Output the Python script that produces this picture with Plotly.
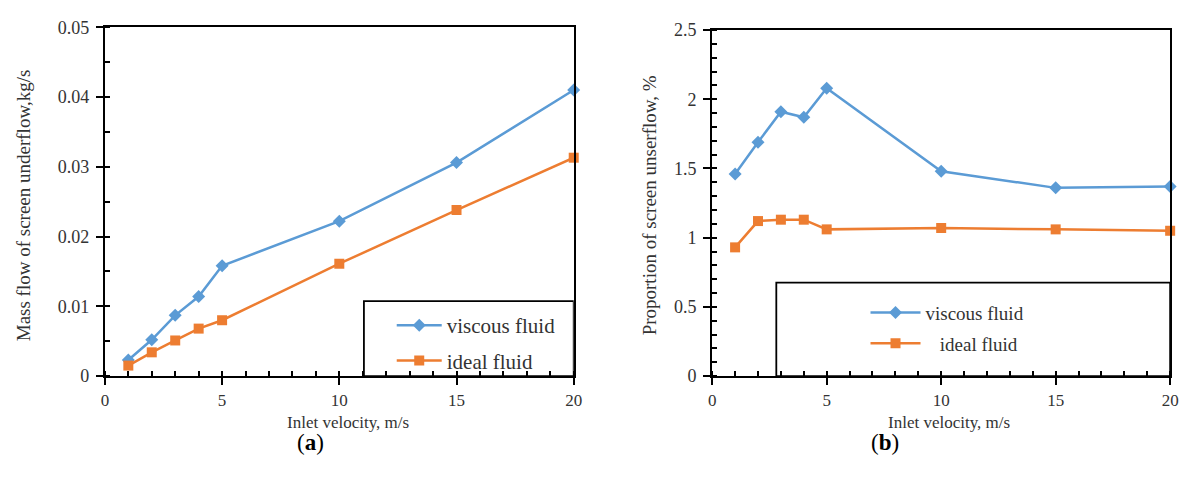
import plotly.graph_objects as go

W, H = 1193, 479

# Inlet velocity (m/s)
velocity = [1, 2, 3, 4, 5, 10, 15, 20]

# (a) mass flow of screen underflow, kg/s
mass_viscous = [0.0023, 0.0052, 0.0087, 0.0114, 0.0158, 0.0222, 0.0306, 0.0410]
mass_ideal = [0.0015, 0.0034, 0.0051, 0.0068, 0.0080, 0.0161, 0.0238, 0.0313]

# (b) proportion of screen underflow, %
prop_viscous = [1.46, 1.69, 1.91, 1.87, 2.08, 1.48, 1.36, 1.37]
prop_ideal = [0.93, 1.12, 1.13, 1.13, 1.06, 1.07, 1.06, 1.05]

series_names = ["viscous fluid", "ideal fluid"]
legend_labels_b = ["viscous fluid", "\u00a0\u00a0 ideal fluid"]

BLUE = "#5B9BD5"
ORANGE = "#ED7D31"
FONT = "Liberation Serif"
TXT = "#333333"


def px_x(p):
    return p / W


def px_y(p):
    return 1 - p / H


fig = go.Figure()

# panel (a)
fig.add_trace(go.Scatter(x=velocity, y=mass_viscous, name=series_names[0], mode="lines+markers",
                         line=dict(color=BLUE, width=2.5), marker=dict(symbol="diamond", size=10, color=BLUE),
                         xaxis="x", yaxis="y", legend="legend", legendgroup="a1", cliponaxis=False))
fig.add_trace(go.Scatter(x=velocity, y=mass_ideal, name=series_names[1], mode="lines+markers",
                         line=dict(color=ORANGE, width=2.5), marker=dict(symbol="square", size=10, color=ORANGE),
                         xaxis="x", yaxis="y", legend="legend", legendgroup="a2", cliponaxis=False))
# panel (b)
fig.add_trace(go.Scatter(x=velocity, y=prop_viscous, name=legend_labels_b[0], mode="lines+markers",
                         line=dict(color=BLUE, width=2.5), marker=dict(symbol="diamond", size=10, color=BLUE),
                         xaxis="x2", yaxis="y2", legend="legend2", legendgroup="b1", cliponaxis=False))
fig.add_trace(go.Scatter(x=velocity, y=prop_ideal, name=legend_labels_b[1], mode="lines+markers",
                         line=dict(color=ORANGE, width=2.5), marker=dict(symbol="square", size=10, color=ORANGE),
                         xaxis="x2", yaxis="y2", legend="legend2", legendgroup="b2", cliponaxis=False))

axis_common = dict(
    showgrid=False, zeroline=False, showline=True, linecolor="black", linewidth=2, mirror=True,
    ticks="outside", ticklen=7, tickwidth=2, tickcolor="black",
)
x_tickfont = dict(family=FONT, size=17, color=TXT)
y_tickfont = dict(family=FONT, size=18, color=TXT)
minor_common = dict(ticks="inside", ticklen=5, tickwidth=2, tickcolor="black")
# inner half of the major x ticks (they cross the axis line)
inner_ticks = dict(range=[0, 20], dtick=5, ticks="inside", ticklen=6, tickwidth=2, tickcolor="black",
                   showticklabels=False, showline=False, showgrid=False, zeroline=False)

fig.update_layout(
    width=W, height=H, margin=dict(l=0, r=0, t=0, b=0),
    paper_bgcolor="white", plot_bgcolor="white",
    font=dict(family=FONT, size=18, color=TXT),
    xaxis=dict(domain=[px_x(102), px_x(576)], range=[0, 20], dtick=5, anchor="y", tickfont=x_tickfont,
               minor=dict(dtick=1, **minor_common), ticklabelstandoff=1, **axis_common),
    yaxis=dict(domain=[px_y(382), px_y(18)], range=[0, 0.05], dtick=0.01, anchor="x", tickfont=y_tickfont,
               minor=dict(dtick=0.005, **minor_common), ticklabelstandoff=3, **axis_common),
    xaxis2=dict(domain=[px_x(716), px_x(1179)], range=[0, 20], dtick=5, anchor="y2", tickfont=x_tickfont,
                minor=dict(dtick=1, **minor_common), ticklabelstandoff=1, **axis_common),
    yaxis2=dict(domain=[px_y(382), px_y(21)], range=[0, 2.5], dtick=0.5, anchor="x2", tickfont=y_tickfont,
                minor=dict(dtick=0.1, **minor_common), ticklabelstandoff=3, **axis_common),
    xaxis3=dict(overlaying="x", anchor="y", domain=[px_x(102), px_x(576)], **inner_ticks),
    xaxis4=dict(overlaying="x2", anchor="y2", domain=[px_x(716), px_x(1179)], **inner_ticks),
    legend=dict(x=px_x(392), y=px_y(308), xanchor="left", yanchor="top", itemwidth=45,
                bgcolor="rgba(0,0,0,0)", borderwidth=0, traceorder="grouped", tracegroupgap=5,
                font=dict(family=FONT, size=21, color=TXT)),
    legend2=dict(x=px_x(871), y=px_y(296), xanchor="left", yanchor="top", itemwidth=50,
                 bgcolor="rgba(0,0,0,0)", borderwidth=0, traceorder="grouped", tracegroupgap=3,
                 font=dict(family=FONT, size=19, color=TXT)),
    showlegend=True,
)

# legend frames
fig.add_shape(type="rect", xref="x", yref="y", x0=11.05, x1=20, y0=0, y1=0.01075,
              line=dict(color="black", width=1.8))
fig.add_shape(type="rect", xref="x2", yref="y2", x0=2.8, x1=20, y0=0, y1=0.675,
              line=dict(color="black", width=1.8))

# axis titles and panel labels
ann = [
    dict(text="Mass flow of screen underflow,kg/s", x=px_x(20), y=px_y(204), textangle=-90, size=19),
    dict(text="Inlet velocity, m/s", x=px_x(348), y=px_y(430), size=17),
    dict(text="Proportion of screen unserflow, %", x=px_x(653), y=px_y(204), textangle=-90, size=19),
    dict(text="Inlet velocity, m/s", x=px_x(955), y=px_y(430), size=17),
]
for a in ann:
    size = a.pop("size")
    fig.add_annotation(xref="paper", yref="paper", showarrow=False, xanchor="center", yanchor="middle",
                       font=dict(family=FONT, size=size, color=TXT), **a)
fig.add_annotation(text="(<b>a</b>)", xref="paper", yref="paper", x=px_x(294), y=px_y(466),
                   showarrow=False, font=dict(family=FONT, size=23, color="black"))
fig.add_annotation(text="(<b>b</b>)", xref="paper", yref="paper", x=px_x(907), y=px_y(466),
                   showarrow=False, font=dict(family=FONT, size=23, color="black"))

fig.write_html("out.html")
